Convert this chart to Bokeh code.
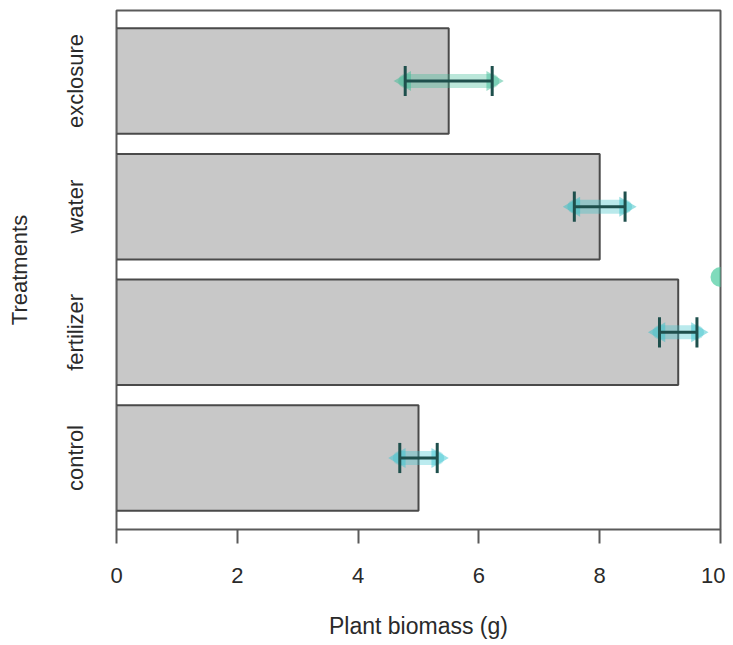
import numpy as np
from bokeh.plotting import figure
from bokeh.models import Range1d, FixedTicker, ColumnDataSource
from bokeh.embed import file_html
from bokeh.resources import INLINE

# ---- data ----
treatments = ["control", "fertilizer", "water", "exclosure"]
biomass = [5.0, 9.3, 8.0, 5.5]
err = [0.31, 0.31, 0.42, 0.72]
glow_colors = ["#3cc6d2", "#38c2cc", "#36c0c6", "#3dbb96"]
extra_x = [10.0]
extra_y = [2.44]
x_ticks = [0, 2, 4, 6, 8, 10]

ypos = list(range(1, len(treatments) + 1))
lo = [b - e for b, e in zip(biomass, err)]
hi = [b + e for b, e in zip(biomass, err)]

FONT = "Liberation Sans"
TXT = "#2a2a2a"
EDGE = "#5a5a5a"

p = figure(width=725, height=641, x_range=Range1d(0, 10), y_range=Range1d(0.431, 4.561),
           output_backend="svg", toolbar_location=None,
           min_border_left=116, min_border_right=5, min_border_top=10, min_border_bottom=112)
p.background_fill_color = "white"
p.border_fill_color = "white"
p.outline_line_color = EDGE
p.outline_line_width = 2
p.xgrid.visible = False
p.ygrid.visible = False

src = ColumnDataSource(dict(y=ypos, right=biomass, lo=lo, hi=hi, glow=glow_colors,
                            y0=[y - 0.12 for y in ypos], y1=[y + 0.12 for y in ypos]))

p.hbar(y="y", left=0, right="right", height=0.84, source=src,
       fill_color="#c8c8c8", line_color="#4a4a4a", line_width=2)

# glow behind the error bars
p.segment(x0="lo", x1="hi", y0="y", y1="y", source=src, line_color="glow",
          line_width=14, line_alpha=0.35, line_cap="round")
p.scatter(x="hi", y="y", source=src, marker="triangle", angle=-np.pi / 2, size=20,
          fill_color="glow", line_color=None, fill_alpha=0.5)
p.scatter(x="lo", y="y", source=src, marker="triangle", angle=np.pi / 2, size=20,
          fill_color="glow", line_color=None, fill_alpha=0.5)

# error bars
p.segment(x0="lo", x1="hi", y0="y", y1="y", source=src, line_color="#1e4f4c", line_width=3)
p.segment(x0="lo", x1="lo", y0="y0", y1="y1", source=src, line_color="#1e4f4c", line_width=3)
p.segment(x0="hi", x1="hi", y0="y0", y1="y1", source=src, line_color="#1e4f4c", line_width=3)

p.scatter(x=extra_x, y=extra_y, size=20, fill_color="#55cfa5", line_color=None, fill_alpha=0.75)

# x axis
xa = p.xaxis[0]
xa.ticker = FixedTicker(ticks=x_ticks)
xa.axis_line_color = None
xa.major_tick_line_color = EDGE
xa.major_tick_line_width = 2
xa.major_tick_in = 0
xa.major_tick_out = 14
xa.minor_tick_line_color = None
xa.major_label_text_font = FONT
xa.major_label_text_font_size = "22px"
xa.major_label_text_color = TXT
xa.major_label_standoff = 24
xa.axis_label = "Plant biomass (g)"
xa.axis_label_text_font = FONT
xa.axis_label_text_font_size = "23px"
xa.axis_label_text_font_style = "normal"
xa.axis_label_text_color = TXT
xa.axis_label_standoff = 27

# y axis
ya = p.yaxis[0]
ya.ticker = FixedTicker(ticks=ypos)
ya.major_label_overrides = {y: t for y, t in zip(ypos, treatments)}
ya.major_label_orientation = "vertical"
ya.axis_line_color = None
ya.major_tick_line_color = None
ya.minor_tick_line_color = None
ya.major_label_text_font = FONT
ya.major_label_text_font_size = "22px"
ya.major_label_text_color = TXT
ya.major_label_standoff = 22
ya.axis_label = "Treatments"
ya.axis_label_text_font = FONT
ya.axis_label_text_font_size = "22px"
ya.axis_label_text_font_style = "normal"
ya.axis_label_text_color = TXT
ya.axis_label_standoff = 29

open("out.html", "w").write(file_html(p, INLINE))
